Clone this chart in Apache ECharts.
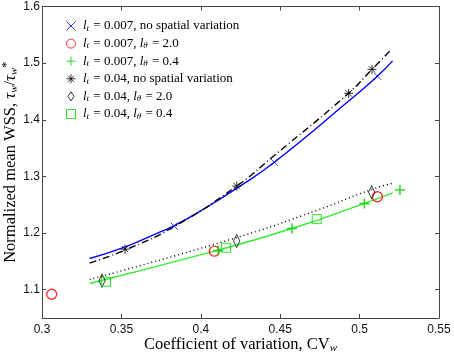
<!DOCTYPE html>
<html>
<head>
<meta charset="utf-8">
<script src="https://cdn.jsdelivr.net/npm/echarts@6/dist/echarts.min.js"></script>
<style>
  html, body { margin: 0; padding: 0; background: #fff; }
  #chart { width: 454px; height: 355px; }
</style>
</head>
<body>
<div id="chart"></div>
<script>
// tick labels
const xTicks = [0.3, 0.35, 0.4, 0.45, 0.5, 0.55]
const yTicks = [1.1, 1.2, 1.3, 1.4, 1.5, 1.6]

// legend pieces
const legendLt = ['0.007', '0.007', '0.007', '0.04', '0.04', '0.04']
const legendTheta = [null, '2.0', '0.4', null, '2.0', '0.4']

// markers, [CV_w, normalized WSS]
const lt007None = [[0.3833, 1.212], [0.4463, 1.325], [0.5112, 1.477]]
const lt007Th2 = [[0.3061, 1.092], [0.4085, 1.168], [0.5112, 1.264]]
const lt007Th04 = [[0.4110, 1.169], [0.4574, 1.208], [0.5030, 1.252], [0.5254, 1.276]]
const lt04None = [[0.3523, 1.1716], [0.4226, 1.283], [0.4931, 1.4466], [0.5078, 1.489]]
const lt04Th2 = [[0.3378, 1.116], [0.4226, 1.186], [0.5076, 1.272]]
const lt04Th04 = [[0.3403, 1.114], [0.4159, 1.174], [0.4730, 1.2246]]

// fitted curves
const fit007None = [[0.330, 1.155], [0.352, 1.175], [0.372, 1.199], [0.3833, 1.213], [0.404, 1.246],
  [0.4226, 1.279], [0.4463, 1.325], [0.4931, 1.433], [0.5112, 1.477], [0.5208, 1.504]]
const fit04None = [[0.330, 1.147], [0.3523, 1.170], [0.383, 1.211], [0.4226, 1.283], [0.4463, 1.337],
  [0.4931, 1.447], [0.5078, 1.489], [0.5196, 1.523]]
const fit007Th04 = [[0.330, 1.111], [0.4085, 1.168], [0.4574, 1.208], [0.503, 1.2523], [0.5208, 1.271]]
const fit04Th = [[0.330, 1.118], [0.4226, 1.192], [0.473, 1.240], [0.5076, 1.277], [0.5208, 1.288]]

const names = legendLt.map((lt, i) => legendTheta[i] === null
  ? 'lt = ' + lt + ', no spatial variation'
  : 'lt = ' + lt + ', ltheta = ' + legendTheta[i])

const serif = 'Liberation Serif'
const sans = 'Liberation Sans'

const P_X = 'path://M0,0L10,10M10,0L0,10'
const P_PLUS = 'path://M5,0L5,10M0,5L10,5'
const P_STAR = 'path://M5,0L5,10M0,5L10,5M1.5,1.5L8.5,8.5M8.5,1.5L1.5,8.5'
const P_CIRCLE = 'path://M10,5A5,5,0,1,1,0,5A5,5,0,1,1,10,5Z'
const P_DIAMOND = 'path://M4.5,0L9,6.5L4.5,13L0,6.5Z'
const P_SQUARE = 'path://M0,0L10,0L10,10L0,10Z'

const chart = echarts.init(document.getElementById('chart'))

function marker(i, data, symbol, size, color, width) {
  return {
    name: names[i],
    type: 'scatter',
    data: data,
    symbol: symbol,
    symbolSize: size,
    symbolKeepAspect: true,
    itemStyle: { color: 'none', borderColor: color, borderWidth: width },
    z: 5
  }
}

function fit(data, color, type) {
  return {
    type: 'line',
    data: data,
    smooth: true,
    symbol: 'none',
    silent: true,
    lineStyle: { color: color, width: 1.4, type: type },
    z: 3
  }
}

const frameColor = '#444'

chart.setOption({
  animation: false,
  grid: { left: 42, right: 15, top: 6.5, bottom: 37, containLabel: false, outerBoundsMode: 'none' },
  legend: {
    orient: 'vertical',
    left: 59,
    top: 14,
    itemGap: 3.6,
    itemWidth: 14,
    itemHeight: 9,
    data: names,
    itemStyle: { borderWidth: 1 },
    formatter: function(name) {
      const i = names.indexOf(name)
      let s = '{i|l}{s|t}{n| = ' + legendLt[i] + ', }'
      if (legendTheta[i] === null) {
        s += '{n|no spatial variation}'
      } else {
        s += '{i|l}{s|θ}{n| = ' + legendTheta[i] + '}'
      }
      return s
    },
    textStyle: {
      fontFamily: serif,
      fontSize: 13,
      color: '#000',
      rich: {
        n: { fontFamily: serif, fontSize: 13, color: '#000' },
        i: { fontFamily: serif, fontSize: 13, fontStyle: 'italic', color: '#000' },
        s: { fontFamily: serif, fontSize: 9, fontStyle: 'italic', color: '#000', padding: [5, 1, 0, 0] }
      }
    }
  },
  xAxis: [{
    type: 'value',
    min: 0.3,
    max: 0.55,
    interval: 0.05,
    name: '{n|Coefficient of variation, CV}{s|w}',
    nameLocation: 'middle',
    nameGap: 18,
    nameMoveOverlap: false,
    nameTextStyle: {
      rich: {
        n: { fontFamily: serif, fontSize: 16.5, color: '#000' },
        s: { fontFamily: serif, fontSize: 11, fontStyle: 'italic', color: '#000', padding: [7, 0, 0, 0] }
      }
    },
    axisLine: { lineStyle: { color: frameColor, width: 1 } },
    axisTick: { inside: true, length: 4, lineStyle: { color: frameColor } },
    axisLabel: {
      customValues: xTicks,
      formatter: v => String(+v.toFixed(2)),
      fontFamily: sans,
      fontSize: 12,
      color: '#111',
      margin: 6
    },
    splitLine: { show: false }
  }, {
    type: 'value',
    position: 'top',
    min: 0.3,
    max: 0.55,
    interval: 0.05,
    axisLine: { lineStyle: { color: frameColor, width: 1 } },
    axisTick: { inside: true, length: 4, lineStyle: { color: frameColor } },
    axisLabel: { show: false },
    splitLine: { show: false }
  }],
  yAxis: [{
    type: 'value',
    min: 1.05,
    max: 1.6,
    name: '{n|Normalized mean WSS, }{i|τ}{s|w}{n|/}{i|τ}{s|w}{p|*}',
    nameLocation: 'middle',
    nameGap: 21,
    nameMoveOverlap: false,
    nameTextStyle: {
      rich: {
        n: { fontFamily: serif, fontSize: 16.5, color: '#000' },
        i: { fontFamily: serif, fontSize: 16.5, fontStyle: 'italic', color: '#000' },
        s: { fontFamily: serif, fontSize: 11, fontStyle: 'italic', color: '#000', padding: [7, 0, 0, 0] },
        p: { fontFamily: serif, fontSize: 12, color: '#000', padding: [0, 0, 8, 0] }
      }
    },
    axisLine: { lineStyle: { color: frameColor, width: 1 } },
    axisTick: { inside: true, length: 4, customValues: yTicks, lineStyle: { color: frameColor } },
    axisLabel: {
      customValues: yTicks,
      formatter: v => v.toFixed(1),
      fontFamily: sans,
      fontSize: 12,
      color: '#111',
      margin: 2
    },
    splitLine: { show: false }
  }, {
    type: 'value',
    position: 'right',
    min: 1.05,
    max: 1.6,
    axisLine: { lineStyle: { color: frameColor, width: 1 } },
    axisTick: { inside: true, length: 4, customValues: yTicks, lineStyle: { color: frameColor } },
    axisLabel: { show: false, customValues: yTicks },
    splitLine: { show: false }
  }],
  series: [
    fit(fit007None, '#0000ff', 'solid'),
    fit(fit04None, '#000', [7, 3, 1, 3]),
    fit(fit007Th04, '#33ee33', 'solid'),
    fit(fit04Th, '#000', [1, 3]),
    marker(0, lt007None, P_X, 7, '#0000ff', 1),
    marker(1, lt007Th2, P_CIRCLE, 10, '#ff0000', 1.4),
    marker(2, lt007Th04, P_PLUS, 10, '#00cc00', 1.6),
    marker(3, lt04None, P_STAR, 9, '#000', 1),
    marker(4, lt04Th2, P_DIAMOND, [9, 13], '#000', 1),
    marker(5, lt04Th04, P_SQUARE, 9, '#00dd00', 1)
  ]
})
</script>
</body>
</html>
